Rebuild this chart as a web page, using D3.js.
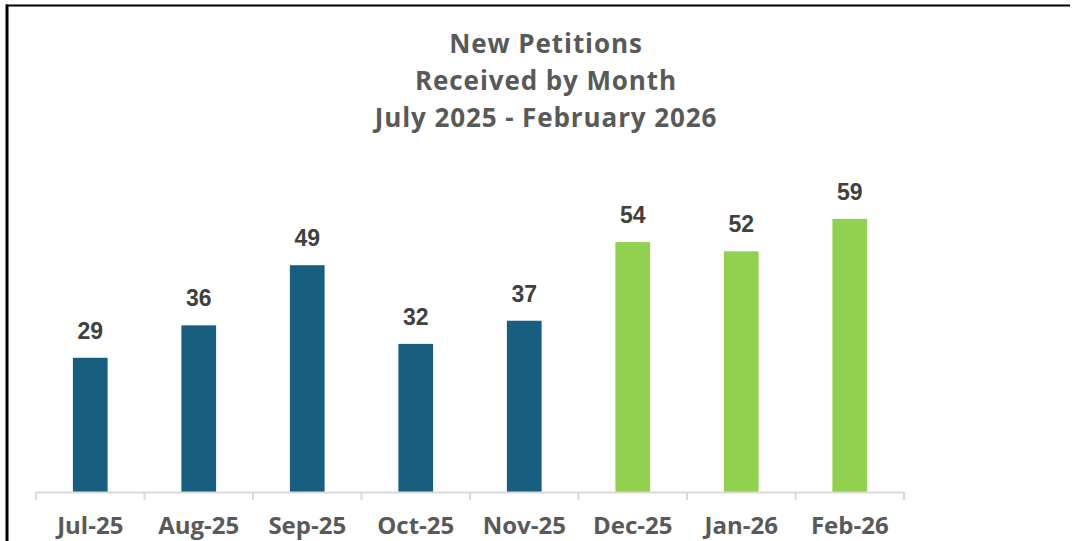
<!DOCTYPE html>
<html><head><meta charset="utf-8">
<script src="https://cdn.jsdelivr.net/npm/d3@7"></script>
<style>body{margin:0;background:#fff}svg{display:block}</style>
</head><body>
<script>
const categories = ["Jul-25","Aug-25","Sep-25","Oct-25","Nov-25","Dec-25","Jan-26","Feb-26"];
const values = [29,36,49,32,37,54,52,59];
const barColors = ["#175E7F","#175E7F","#175E7F","#175E7F","#175E7F","#92D050","#92D050","#92D050"];
const titleLines = ["New Petitions","Received by Month","July 2025 - February 2026"];

const W = 1074, H = 541;
const svg = d3.select("body").append("svg").attr("width", W).attr("height", H);

// border (top and left)
svg.append("line").attr("x1",6).attr("x2",1070).attr("y1",5.5).attr("y2",5.5).attr("stroke","#000").attr("stroke-width",2);
svg.append("line").attr("x1",7).attr("x2",7).attr("y1",4.5).attr("y2",H).attr("stroke","#000").attr("stroke-width",3);

const x = d3.scaleBand().domain(categories).range([36, 904]).paddingInner(0.68).paddingOuter(0.34);
const y = d3.scaleLinear().domain([0, 70]).range([492, 168]);

const font = "'Open Sans', sans-serif";

// title
svg.append("g").selectAll("text").data(titleLines).join("text")
  .attr("x", 546).attr("y", (d,i) => 52.5 + i*37.3)
  .attr("text-anchor","middle").attr("font-family", font).attr("font-weight",700)
  .attr("font-size", 26).attr("letter-spacing", 0.9).attr("fill","#595959").text(d => d);

// bars
svg.append("g").selectAll("rect").data(values).join("rect")
  .attr("x", (d,i) => x(categories[i])).attr("width", x.bandwidth())
  .attr("y", d => y(d)).attr("height", d => y(0) - y(d))
  .attr("fill", (d,i) => barColors[i]);

// value labels
svg.append("g").selectAll("text").data(values).join("text")
  .attr("x", (d,i) => x(categories[i]) + x.bandwidth()/2).attr("y", d => y(d) - 19)
  .attr("text-anchor","middle").attr("font-family","'Liberation Sans', Arial, sans-serif")
  .attr("font-weight",700).attr("font-size",23).attr("fill","#404040").text(d => d);

// axis
const axis = d3.axisBottom(x).tickSize(0).tickPadding(0);
const g = svg.append("g").attr("transform","translate(0,492)").call(axis);
g.select(".domain").remove();
g.selectAll("text").attr("font-family", font).attr("font-weight",700).attr("font-size",24)
  .attr("fill","#595959").attr("dy",null).attr("y",42);
g.append("line").attr("x1",36).attr("x2",904).attr("y1",0.5).attr("y2",0.5).attr("stroke","#D9D9D9").attr("stroke-width",2);
const step = x.step();
const bounds = d3.range(categories.length + 1).map(i => 36 + i*step);
g.selectAll(".bnd").data(bounds).join("line").attr("class","bnd")
  .attr("x1", d => d).attr("x2", d => d).attr("y1", 0).attr("y2", 8)
  .attr("stroke","#D9D9D9").attr("stroke-width",2);
</script>
</body></html>
